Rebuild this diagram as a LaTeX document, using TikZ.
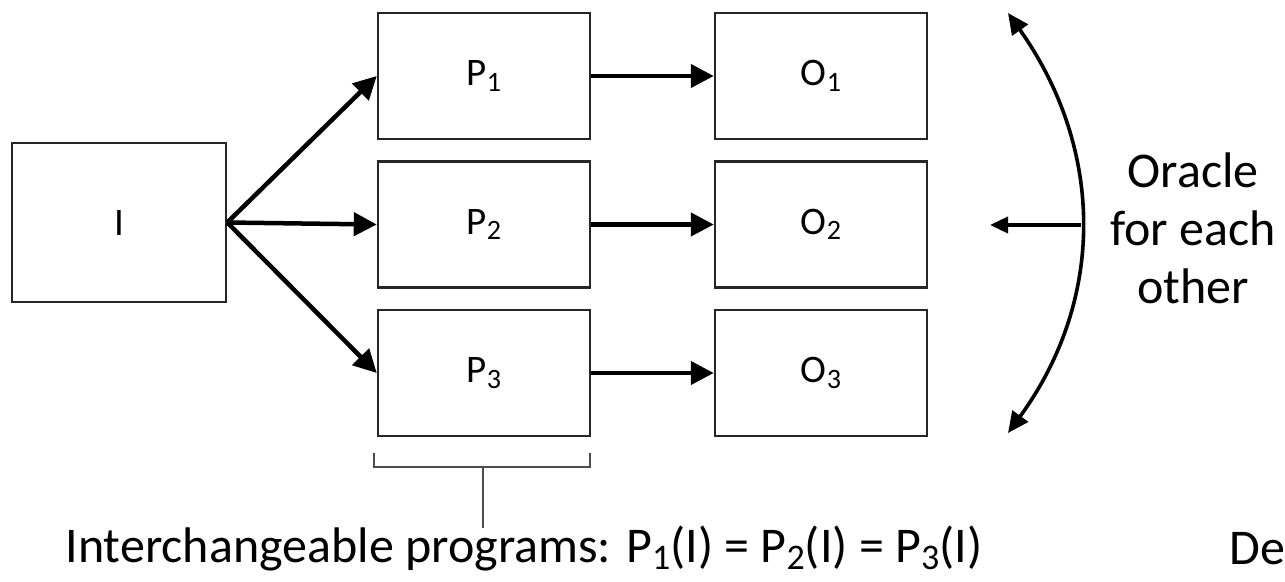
\documentclass[tikz,border=0pt]{standalone}
\usepackage{fontspec}
\usepackage{graphicx}
\setmainfont{Carlito}
\usetikzlibrary{arrows.meta}
\newcommand{\idx}[1]{\raisebox{-0.14em}{\scalebox{0.72}{#1}}}
\tikzset{
  box/.style={draw=black!85,line width=2.5pt,minimum width=212pt,minimum height=126pt,
    inner sep=0pt,font=\fontsize{39}{44}\selectfont},
  flow/.style={line width=4.5pt,-{Triangle[length=23pt,width=23pt]}},
  label/.style={font=\fontsize{50}{58}\selectfont,align=center},
}
\begin{document}
\begin{tikzpicture}[x=1pt,y=-1pt]
  \useasboundingbox (0,0) rectangle (1285,581);
  % input
  \node[box,minimum width=214pt,minimum height=159pt] (I) at (119,222.5) {I};
  % programs and outputs
  \foreach \i/\y in {1/76,2/224.5,3/373} {
    \node[box] (P\i) at (484,\y) {P\idx{\i}};
    \node[box] (O\i) at (821,\y) {O\idx{\i}};
    \draw[flow] (I.east) -- (P\i.west);
    \draw[flow] (P\i.east) -- (O\i.west);
  }
  % oracle arc
  \coordinate (top) at (1008,13);
  \coordinate (bot) at (1008,433);
  \coordinate (mid) at (1081,225);
  \coordinate (tip) at (990,225);
  \draw[line width=3.6pt,{Triangle[length=21pt,width=19pt]}-{Triangle[length=21pt,width=19pt]}]
    (top) .. controls (1105,150) and (1105,300) .. (bot);
  \draw[line width=3.6pt,-{Triangle[length=18pt,width=16pt]}] (mid) -- (tip);
  \node[label] (oracle) at (1193,228) {Oracle\\for each\\other};
  % bracket under P3
  \coordinate (bl) at (374,453);
  \coordinate (br) at (590,453);
  \coordinate (stem) at (483,528);
  \draw[black!70,line width=1.8pt] (bl) -- ++(0,14) -| (br);
  \draw[black!70,line width=1.8pt] (483,467) -- (stem);
  \node[label] (interch) at (524,549)
    {Interchangeable programs: P\idx{1}(I) = P\idx{2}(I) = P\idx{3}(I)};
  \node[label,anchor=west] (de) at (1226,549) {De};
\end{tikzpicture}
\end{document}
